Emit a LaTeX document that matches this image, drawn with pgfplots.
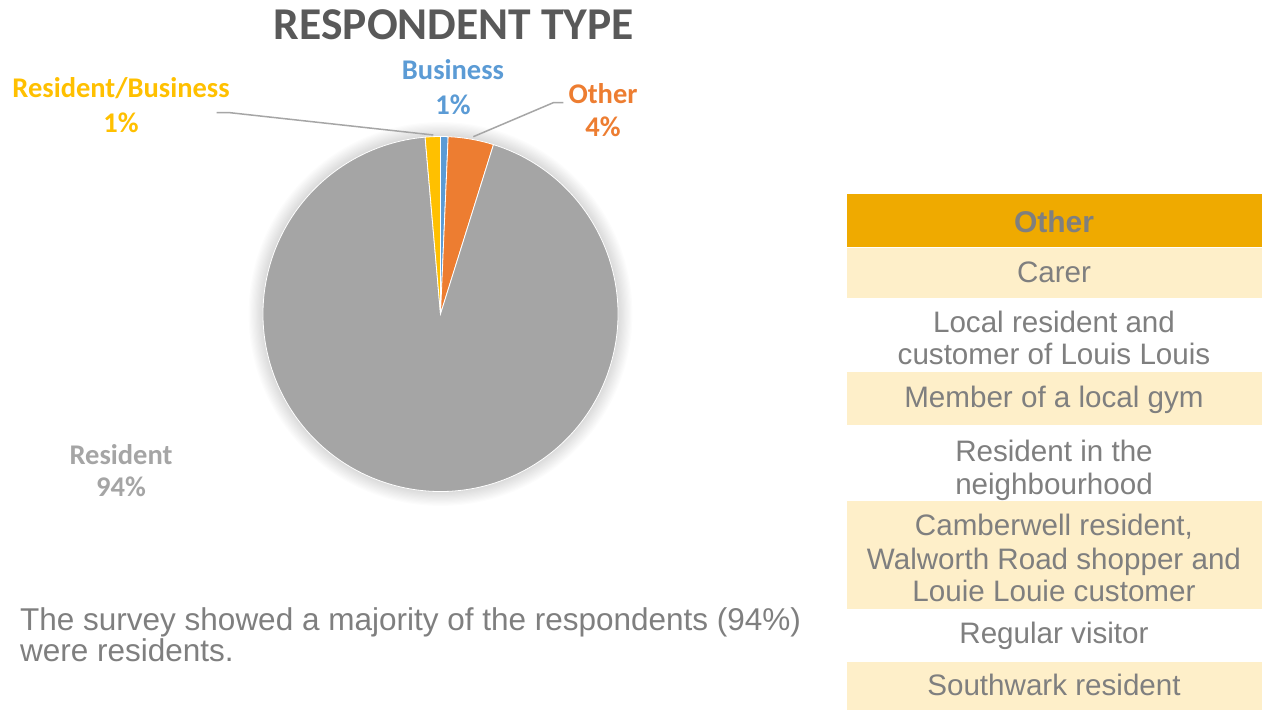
\documentclass[border=0pt]{standalone}
\usepackage{pgfplots}
\pgfplotsset{compat=1.18}
\usepackage{pgfplotstable}
\usepackage{fontspec}
\setmainfont{Liberation Sans}
\newfontfamily\calibri{Carlito}
\definecolor{bizblue}{HTML}{5B9BD5}
\definecolor{othorange}{HTML}{ED7D31}
\definecolor{resgray}{HTML}{A5A5A5}
\definecolor{rbyellow}{HTML}{FFC000}
\definecolor{titlegray}{HTML}{595959}
\definecolor{hdrgold}{HTML}{EFAA00}
\definecolor{cream}{HTML}{FEEFC9}
\definecolor{txtgray}{HTML}{7F7F7F}
\definecolor{leader}{HTML}{A6A6A6}

\pgfplotstableread{
label value
Business 1
Other 6
Resident 136
ResidentBusiness 2
}\pietable
\pgfplotstablegetelem{0}{value}\of\pietable\pgfmathsetmacro\vA{\pgfplotsretval}
\pgfplotstablegetelem{1}{value}\of\pietable\pgfmathsetmacro\vB{\pgfplotsretval}
\pgfplotstablegetelem{2}{value}\of\pietable\pgfmathsetmacro\vC{\pgfplotsretval}
\pgfplotstablegetelem{3}{value}\of\pietable\pgfmathsetmacro\vD{\pgfplotsretval}
\pgfmathsetmacro\tot{\vA+\vB+\vC+\vD}
\pgfmathsetmacro\aA{90}
\pgfmathsetmacro\aB{\aA-360*(\vA/\tot)}
\pgfmathsetmacro\aC{\aB-360*(\vB/\tot)}
\pgfmathsetmacro\aD{\aC-360*(\vC/\tot)}
\pgfmathsetmacro\aE{\aD-360*(\vD/\tot)}

\begin{document}
\begin{tikzpicture}
\begin{axis}[at={(0,0)}, anchor=south west, x=1pt, y=1pt,
  xmin=0, xmax=1262, ymin=0, ymax=710, hide axis, clip=false,
  enlargelimits=false]
\fill[white] (axis cs:0,0) rectangle (axis cs:1262,710);
% soft shadow
\pgfplotsinvokeforeach{1,...,12}{
  \fill[black, opacity=0.012] (axis cs:440.5,396) circle[radius={177.5pt+1.2pt*#1}];
}
% pie wedges
\addplot[fill=bizblue, draw=white, line width=0.8pt] coordinates {(440.5,396)}
  -- ++(\aA:177.5pt) arc[start angle=\aA, end angle=\aB, radius=177.5pt] -- cycle;
\addplot[fill=othorange, draw=white, line width=0.8pt] coordinates {(440.5,396)}
  -- ++(\aB:177.5pt) arc[start angle=\aB, end angle=\aC, radius=177.5pt] -- cycle;
\addplot[fill=resgray, draw=white, line width=0.8pt] coordinates {(440.5,396)}
  -- ++(\aC:177.5pt) arc[start angle=\aC, end angle=\aD, radius=177.5pt] -- cycle;
\addplot[fill=rbyellow, draw=white, line width=0.8pt] coordinates {(440.5,396)}
  -- ++(\aD:177.5pt) arc[start angle=\aD, end angle=\aE, radius=177.5pt] -- cycle;
% title
\node[anchor=base, text=titlegray, font=\calibri\bfseries\fontsize{45.5}{50}\selectfont] at (axis cs:454,670) {RESPONDENT TYPE};
% labels
\tikzset{lbl/.style={anchor=base, font=\calibri\bfseries\fontsize{28.5}{32}\selectfont}}
\node[lbl, text=bizblue] at (axis cs:453,630) {Business};
\node[lbl, text=bizblue] at (axis cs:453,595.5) {1\%};
\node[lbl, text=othorange] at (axis cs:603,606) {Other};
\node[lbl, text=othorange] at (axis cs:603,573.5) {4\%};
\node[lbl, text=rbyellow] at (axis cs:121,612.7) {Resident/Business};
\node[lbl, text=rbyellow] at (axis cs:121,577.5) {1\%};
\node[lbl, text=resgray] at (axis cs:121,245) {Resident};
\node[lbl, text=resgray] at (axis cs:121,213.5) {94\%};
% leader lines
\draw[leader, line width=1.5pt] (axis cs:216.7,597.3) -- (axis cs:230,597.3) -- (axis cs:433.3,575);
\draw[leader, line width=1.5pt] (axis cs:563.3,607.3) -- (axis cs:553.3,607.3) -- (axis cs:473.3,573.3);
% table
\fill[hdrgold] (axis cs:846.7,462.5) rectangle (axis cs:1262,516);
\draw[white, line width=1pt] (axis cs:861,462.7) -- (axis cs:1249,462.7);
\fill[cream] (axis cs:846.7,412) rectangle (axis cs:1262,462);
\fill[cream] (axis cs:846.7,284.5) rectangle (axis cs:1262,338);
\fill[cream] (axis cs:846.7,100.5) rectangle (axis cs:1262,209);
\fill[cream] (axis cs:846.7,0) rectangle (axis cs:1262,47.7);
\tikzset{tt/.style={anchor=base, text=txtgray, font=\fontsize{29.6}{34}\selectfont}}
\node[anchor=base, text=txtgray, font=\bfseries\fontsize{30}{34}\selectfont] at (axis cs:1054,477.3) {Other};
\node[tt] at (axis cs:1054,427.3) {Carer};
\node[tt] at (axis cs:1054,377.7) {Local resident and};
\node[tt] at (axis cs:1054,345) {customer of Louis Louis};
\node[tt] at (axis cs:1054,302.7) {Member of a local gym};
\node[tt] at (axis cs:1054,248.5) {Resident in the};
\node[tt] at (axis cs:1054,215.5) {neighbourhood};
\node[tt] at (axis cs:1054,174) {Camberwell resident,};
\node[tt] at (axis cs:1054,140) {Walworth Road shopper and};
\node[tt] at (axis cs:1054,108.3) {Louie Louie customer};
\node[tt] at (axis cs:1054,66) {Regular visitor};
\node[tt] at (axis cs:1054,14.3) {Southwark resident};
% bottom text
\tikzset{bt/.style={anchor=base west, inner sep=0pt, text=txtgray, font=\fontsize{31.5}{34}\selectfont}}
\node[bt] at (axis cs:20,79) {The survey showed a majority of the respondents (94\%)};
\node[bt] at (axis cs:20,48) {were residents.};
\end{axis}
\end{tikzpicture}
\end{document}
